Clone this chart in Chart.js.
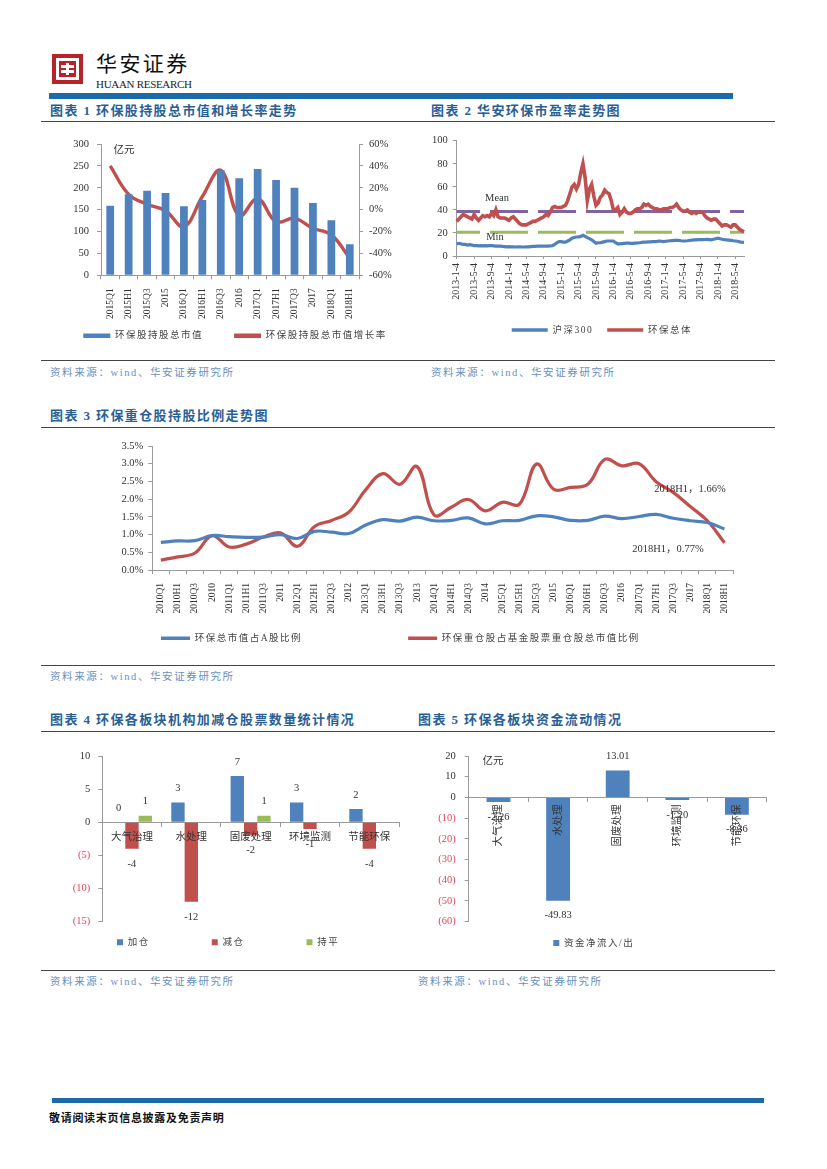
<!DOCTYPE html>
<html>
<head>
<meta charset="utf-8">
<title>环保板块持股情况</title>
<script src="https://cdn.jsdelivr.net/npm/chart.js@4"></script>
<style>
html,body{margin:0;padding:0;background:#fff;}
#page{position:relative;width:827px;height:1169px;overflow:hidden;font-family:"Liberation Serif","Noto Sans CJK SC",serif;color:#333;}
#page canvas{position:absolute;}
.bar{position:absolute;background:#1b6aa9;}
.rule{position:absolute;left:41px;width:734px;height:1px;background:#444;}
.title{position:absolute;font-size:13px;font-weight:bold;color:#2a5f96;letter-spacing:1.4px;line-height:16px;white-space:nowrap;}
.src{position:absolute;font-size:10.5px;color:#6a90ba;letter-spacing:1.6px;line-height:14px;white-space:nowrap;}
.note{position:absolute;font-size:10.5px;color:#333;transform:translate(-50%,-50%);white-space:nowrap;}
</style>
</head>
<body>
<div id="page">
  <svg style="position:absolute;left:52px;top:54px" width="31" height="30" viewBox="0 0 31 30">
    <rect width="31" height="30" fill="#b5242b"/>
    <rect x="4" y="4" width="23" height="22" fill="#fff"/>
    <rect x="7" y="7" width="17" height="16" fill="#b5242b"/>
    <path d="M9 11h13v3H9zM9 16h13v3H9zM14 9h3v12h-3z" fill="#fff"/>
  </svg>
  <div style="position:absolute;left:96px;top:51px;font-size:21px;letter-spacing:2.4px;color:#111;line-height:27px">华安证券</div>
  <div style="position:absolute;left:96px;top:78px;font-size:11px;color:#222;line-height:13px;letter-spacing:-.3px">HUAAN RESEARCH</div>
  <div class="bar" style="left:49px;top:93px;width:684px;height:6px"></div>

  <div class="title" style="left:50px;top:103px">图表 1 环保股持股总市值和增长率走势</div>
  <div class="title" style="left:431px;top:103px">图表 2 华安环保市盈率走势图</div>
  <div class="rule" style="top:121px"></div>
  <div class="rule" style="top:360px"></div>
  <div class="src" style="left:50px;top:366px">资料来源：wind、华安证券研究所</div>
  <div class="src" style="left:431px;top:366px">资料来源：wind、华安证券研究所</div>

  <div class="title" style="left:50px;top:408px">图表 3 环保重仓股持股比例走势图</div>
  <div class="rule" style="top:427px"></div>
  <div class="rule" style="top:665px"></div>
  <div class="src" style="left:50px;top:670px">资料来源：wind、华安证券研究所</div>

  <div class="title" style="left:50px;top:712px">图表 4 环保各板块机构加减仓股票数量统计情况</div>
  <div class="title" style="left:418px;top:712px">图表 5 环保各板块资金流动情况</div>
  <div class="rule" style="top:731px"></div>
  <div class="rule" style="top:970px"></div>
  <div class="src" style="left:50px;top:975px">资料来源：wind、华安证券研究所</div>
  <div class="src" style="left:418px;top:975px">资料来源：wind、华安证券研究所</div>

  <div class="bar" style="left:52px;top:1098px;width:712px;height:5px"></div>
  <div style="position:absolute;left:49px;top:1110px;font-size:11px;font-weight:bold;letter-spacing:.7px;color:#111;line-height:16px">敬请阅读末页信息披露及免责声明</div>

  <canvas id="c1" width="390" height="225" style="left:40px;top:130px"></canvas>
  <canvas id="c2" width="345" height="225" style="left:425px;top:130px"></canvas>
  <canvas id="c3" width="660" height="225" style="left:100px;top:435px"></canvas>
  <canvas id="c4" width="375" height="230" style="left:40px;top:740px"></canvas>
  <canvas id="c5" width="355" height="230" style="left:420px;top:740px"></canvas>

  <span class="note" style="left:124px;top:148px">亿元</span>
  <span class="note" style="left:497px;top:197px">Mean</span>
  <span class="note" style="left:495px;top:236px">Min</span>
  <span class="note" style="left:690px;top:487px">2018H1，1.66%</span>
  <span class="note" style="left:668px;top:547px">2018H1，0.77%</span>
  <span class="note" style="left:493px;top:759px">亿元</span>
</div>

<script>
// 图表1
const periods1=['2015Q1','2015H1','2015Q3','2015','2016Q1','2016H1','2016Q3','2016','2017Q1','2017H1','2017Q3','2017','2018Q1','2018H1'];
const marketValue=[159,185,193,188,158,172,240,222,243,218,200,165,126,71];
const growthRate=[40,14,5,-1,-15.5,12,36,-5.5,10,-11,-8,-17,-23,-44.5];

// 图表2 (半月取点, 每8个点一个刻度)
const peTickLabels=['2013-1-4','2013-5-4','2013-9-4','2014-1-4','2014-5-4','2014-9-4','2015-1-4','2015-5-4','2015-9-4','2016-1-4','2016-5-4','2016-9-4','2017-1-4','2017-5-4','2017-9-4','2018-1-4','2018-5-4'];
const hs300PE=[10.5,11,10.5,10,10,9.5,9.8,9.5,
  9,9,8.8,9,8.8,9,8.8,9,
  9,8.8,8.5,8.5,8.5,8.3,8.2,8,
  8.2,8,8,7.8,8,8,7.8,7.8,
  8,8,8.2,8.3,8.3,8.5,8.5,8.6,
  8.5,8.6,8.6,8.7,9,10,11.5,12.5,
  12.5,12,12,13,14,15.5,16,16.5,
  16.5,17,18,17,16,15,14,12.5,
  11,11.5,11.5,12,12.5,13,13,13,
  13,11.5,10.5,10.5,10.8,11,11.2,11.2,
  11,11,11.2,11.3,11.5,11.8,12,12,
  12.2,12.2,12.4,12.5,12.7,13,12.8,12.5,
  12.8,13,13.2,13.4,13.5,13.6,13.5,13.2,
  13,13,13.2,13.5,13.7,14,14,14.2,
  14.2,14.2,14.3,14.4,14.2,14,14.5,15,
  15.5,15,14.5,14.2,14,13.8,13.5,13.2,
  13,12.8,12.3,12,11.8];
const envPE=[30,32,34,36,35,34,33,32,
  36,33,31,33,35,34,35,34,
  37,35,40,34,33,33,33,32,
  31,33,34,32,30,28,27,27,
  27,28,29,30,30,31,32,33,
  34,36,35,38,42,43,42,42,
  42,43,44,48,54,60,62,58,
  62,72,80,68,48,58,62,52,
  44,46,51,53,57,55,54,48,
  40,40,42,36,38,41,38,37,
  37,38,40,41,41,42,45,44,
  45,43,42,41,41,40,40,41,
  41,41,42,42,43,45,42,40,
  39,39,40,38,37,38,37,38,
  38,38,35,33,32,31,32,32,
  30,28,26,27,27,26,25,27,
  27,25,23,22,21];
const meanPE=38.5;
const minPE=20.5;

// 图表3
const periods3=['2010Q1','2010H1','2010Q3','2010','2011Q1','2011H1','2011Q3','2011','2012Q1','2012H1','2012Q3','2012','2013Q1','2013H1','2013Q3','2013','2014Q1','2014H1','2014Q3','2014','2015Q1','2015H1','2015Q3','2015','2016Q1','2016H1','2016Q3','2016','2017Q1','2017H1','2017Q3','2017','2018Q1','2018H1'];
const shareOfA=[.78,.82,.83,.97,.94,.92,.93,1.0,.89,1.09,1.07,1.03,1.27,1.42,1.38,1.49,1.39,1.40,1.47,1.30,1.39,1.40,1.53,1.50,1.40,1.40,1.52,1.45,1.51,1.57,1.46,1.39,1.34,1.16];
const shareOfFund=[.28,.37,.48,.97,.65,.73,.93,1.05,.67,1.23,1.4,1.63,2.27,2.72,2.42,2.92,1.55,1.77,1.99,1.67,1.91,1.86,2.99,2.28,2.33,2.42,3.12,2.94,3.0,2.49,2.19,1.79,1.39,.77];

// 图表4, 图表5
const sectors=['大气治理','水处理','固废处理','环境监测','节能环保'];
const addCount=[0,3,7,3,2];
const cutCount=[-4,-12,-2,-1,-4];
const flatCount=[1,null,1,null,null];
const netFlow=[-2.26,-49.83,13.01,-1.20,-8.36];

const BLUE='#4f81bd',RED='#c0504d',GREEN='#9bbb59',PURPLE='#8064a2',AXIS='#9a9a9a',NEG='#e0475a',INK='#333';
Chart.defaults.font.family='"Liberation Serif","Noto Sans CJK SC",serif';
Chart.defaults.font.size=10.5;
Chart.defaults.color=INK;

// 图例放到指定位置, 不占布局
const fixedLegend={
  id:'fixedLegend',
  beforeLayout(chart){
    const l=chart.legend;
    if(l.patched)return;
    l.patched=true;
    const fit=l.fit,draw=l.draw;
    l.fit=function(){fit.call(this);this.height=0;};
    l.draw=function(a){chart.ctx.letterSpacing='1.5px';draw.call(this,a);chart.ctx.letterSpacing='0px';};
  },
  afterLayout(chart,args,o){
    const l=chart.legend,labels=l.options.labels,lh=labels.font.size*1.2;
    l.left=o.x-labels.padding;
    l.right=5000;
    l.top=o.y-labels.padding-lh/2;
    l.bottom=5000;
  }
};

// 柱子上下的数值
const valueLabels={
  id:'valueLabels',
  afterDatasetsDraw(chart,args,o){
    if(!o.show)return;
    const ctx=chart.ctx;
    ctx.save();
    ctx.font='10.5px "Liberation Serif"';
    ctx.fillStyle=INK;
    ctx.textAlign='center';
    ctx.textBaseline='middle';
    chart.data.datasets.forEach((d,i)=>{
      chart.getDatasetMeta(i).data.forEach((el,j)=>{
        const v=d.data[j];
        if(v===null)return;
        ctx.fillText(o.format(v),el.x,el.y+(v<0?15:-14));
      });
    });
    ctx.restore();
  }
};
Chart.register(fixedLegend,valueLabels);

function legendOpts(size,boxW,boxH,gap,keep){
  return {
    position:'bottom',align:'start',
    labels:{
      font:{size:size},color:'#444',boxWidth:boxW,boxHeight:boxH,padding:gap,
      filter:keep||(()=>true),
      generateLabels(chart){
        return Chart.defaults.plugins.legend.labels.generateLabels(chart).map(x=>({...x,lineWidth:0}));
      }
    }
  };
}
// 轴的尺寸写死, 绘图区不随文字变动
function xAxis(height,gap,size,extra){
  return Object.assign({
    type:'category',
    afterFit(s){s.height=height;s.paddingLeft=0;s.paddingRight=0;},
    border:{color:AXIS},
    grid:{drawOnChartArea:false,color:AXIS,tickLength:4,offset:true},
    offset:true,
    ticks:{autoSkip:false,minRotation:90,maxRotation:90,padding:gap,z:1,font:{size:size||9.5}}
  },extra);
}
function yAxis(width,min,max,step,fmt,gap,color,side){
  return {
    type:'linear',position:side||'left',min:min,max:max,
    afterFit(s){s.width=width;s.paddingTop=0;s.paddingBottom=0;},
    border:{color:AXIS},
    grid:{drawOnChartArea:false,color:AXIS,tickLength:4},
    ticks:{stepSize:step,padding:gap,callback:fmt,color:color||INK}
  };
}
const base={responsive:false,animation:false,events:[]};
const parens=v=>v<0?'('+(-v)+')':v;
const negColor=c=>c.tick.value<0?NEG:INK;

new Chart(document.getElementById('c1'),{
  type:'bar',
  data:{labels:periods1,datasets:[
    {label:'环保股持股总市值',data:marketValue,backgroundColor:BLUE,yAxisID:'y',barPercentage:.42,categoryPercentage:1},
    {type:'line',label:'环保股持股总市值增长率',data:growthRate,borderColor:RED,backgroundColor:RED,borderWidth:3.4,pointRadius:0,tension:.4,yAxisID:'y2'}
  ]},
  options:{...base,
    layout:{padding:{top:14}},
    scales:{
      x:xAxis(79.7,9),
      y:yAxis(61,0,300,50,v=>v,8),
      y2:yAxis(71,-60,60,20,v=>v+'%',6,INK,'right')
    },
    plugins:{tooltip:{enabled:false},
      legend:legendOpts(9.5,27,4.5,31),
      fixedLegend:{x:83.3-40,y:336.7-130}}
  }
});

new Chart(document.getElementById('c2'),{
  type:'line',
  data:{labels:hs300PE.map((v,i)=>i%8==0?peTickLabels[i/8]:''),datasets:[
    {label:'沪深300',data:hs300PE,borderColor:BLUE,backgroundColor:BLUE,borderWidth:3.2,pointRadius:0,tension:0},
    {label:'环保总体',data:envPE,borderColor:RED,backgroundColor:RED,borderWidth:3.6,pointRadius:0,tension:0},
    {label:'Mean',data:hs300PE.map(()=>meanPE),borderColor:PURPLE,borderWidth:3,pointRadius:0,borderDash:[38,10],borderDashOffset:14.7},
    {label:'Min',data:hs300PE.map(()=>minPE),borderColor:GREEN,borderWidth:3,pointRadius:0,borderDash:[38,10],borderDashOffset:14.7}
  ]},
  options:{...base,
    layout:{padding:{right:26,top:10.7}},
    scales:{
      x:xAxis(99,4,10,{offset:false,grid:{drawOnChartArea:false,color:AXIS,tickLength:3,offset:false},
        afterBuildTicks(s){s.ticks=s.ticks.filter(t=>t.value%8==0);}}),
      y:yAxis(31.7,0,100,20,v=>v,5)
    },
    plugins:{tooltip:{enabled:false},
      legend:legendOpts(9.5,36,3.5,14,(item)=>item.text!='Mean'&&item.text!='Min'),
      fixedLegend:{x:511.7-425,y:331-130}}
  }
});

new Chart(document.getElementById('c3'),{
  type:'line',
  data:{labels:periods3,datasets:[
    {label:'环保总市值占A股比例',data:shareOfA,borderColor:BLUE,backgroundColor:BLUE,borderWidth:3.2,pointRadius:0,tension:.4},
    {label:'环保重仓股占基金股票重仓股总市值比例',data:shareOfFund,borderColor:RED,backgroundColor:RED,borderWidth:3.2,pointRadius:0,tension:.4}
  ]},
  options:{...base,
    layout:{padding:{right:27,top:11}},
    scales:{
      x:xAxis(90,9),
      y:yAxis(52.3,0,3.5,.5,v=>v.toFixed(1)+'%',5)
    },
    plugins:{tooltip:{enabled:false},
      legend:legendOpts(9.5,29,3.5,106),
      fixedLegend:{x:161-100,y:639.3-435}}
  }
});

new Chart(document.getElementById('c4'),{
  type:'bar',
  data:{labels:sectors,datasets:[
    {label:'加仓',data:addCount,backgroundColor:BLUE},
    {label:'减仓',data:cutCount,backgroundColor:RED},
    {label:'持平',data:flatCount,backgroundColor:GREEN}
  ]},
  options:{...base,
    datasets:{bar:{barPercentage:1,categoryPercentage:.675}},
    layout:{padding:{right:16,top:16,bottom:48.3}},
    scales:{
      x:xAxis(0,5,10.5,{position:{y:0},ticks:{autoSkip:false,maxRotation:0,padding:5,z:1,font:{size:10.5}}}),
      y:yAxis(62.3,-15,10,5,parens,8,negColor)
    },
    plugins:{tooltip:{enabled:false},
      legend:legendOpts(9.5,6,6,62),
      fixedLegend:{x:117-40,y:943.3-740},
      valueLabels:{show:true,format:v=>v}}
  }
});

new Chart(document.getElementById('c5'),{
  type:'bar',
  data:{labels:sectors,datasets:[
    {label:'资金净流入/出',data:netFlow,backgroundColor:BLUE,barPercentage:.4,categoryPercentage:1}
  ]},
  options:{...base,
    layout:{padding:{right:8.3,top:16,bottom:48.3}},
    scales:{
      x:xAxis(0,3,10.5,{position:{y:0}}),
      y:yAxis(48.7,-60,20,10,parens,9,negColor)
    },
    plugins:{tooltip:{enabled:false},
      legend:legendOpts(9.5,6,6,10),
      fixedLegend:{x:553.3-420,y:944-740},
      valueLabels:{show:true,format:v=>v.toFixed(2)}}
  }
});
</script>
</body>
</html>
